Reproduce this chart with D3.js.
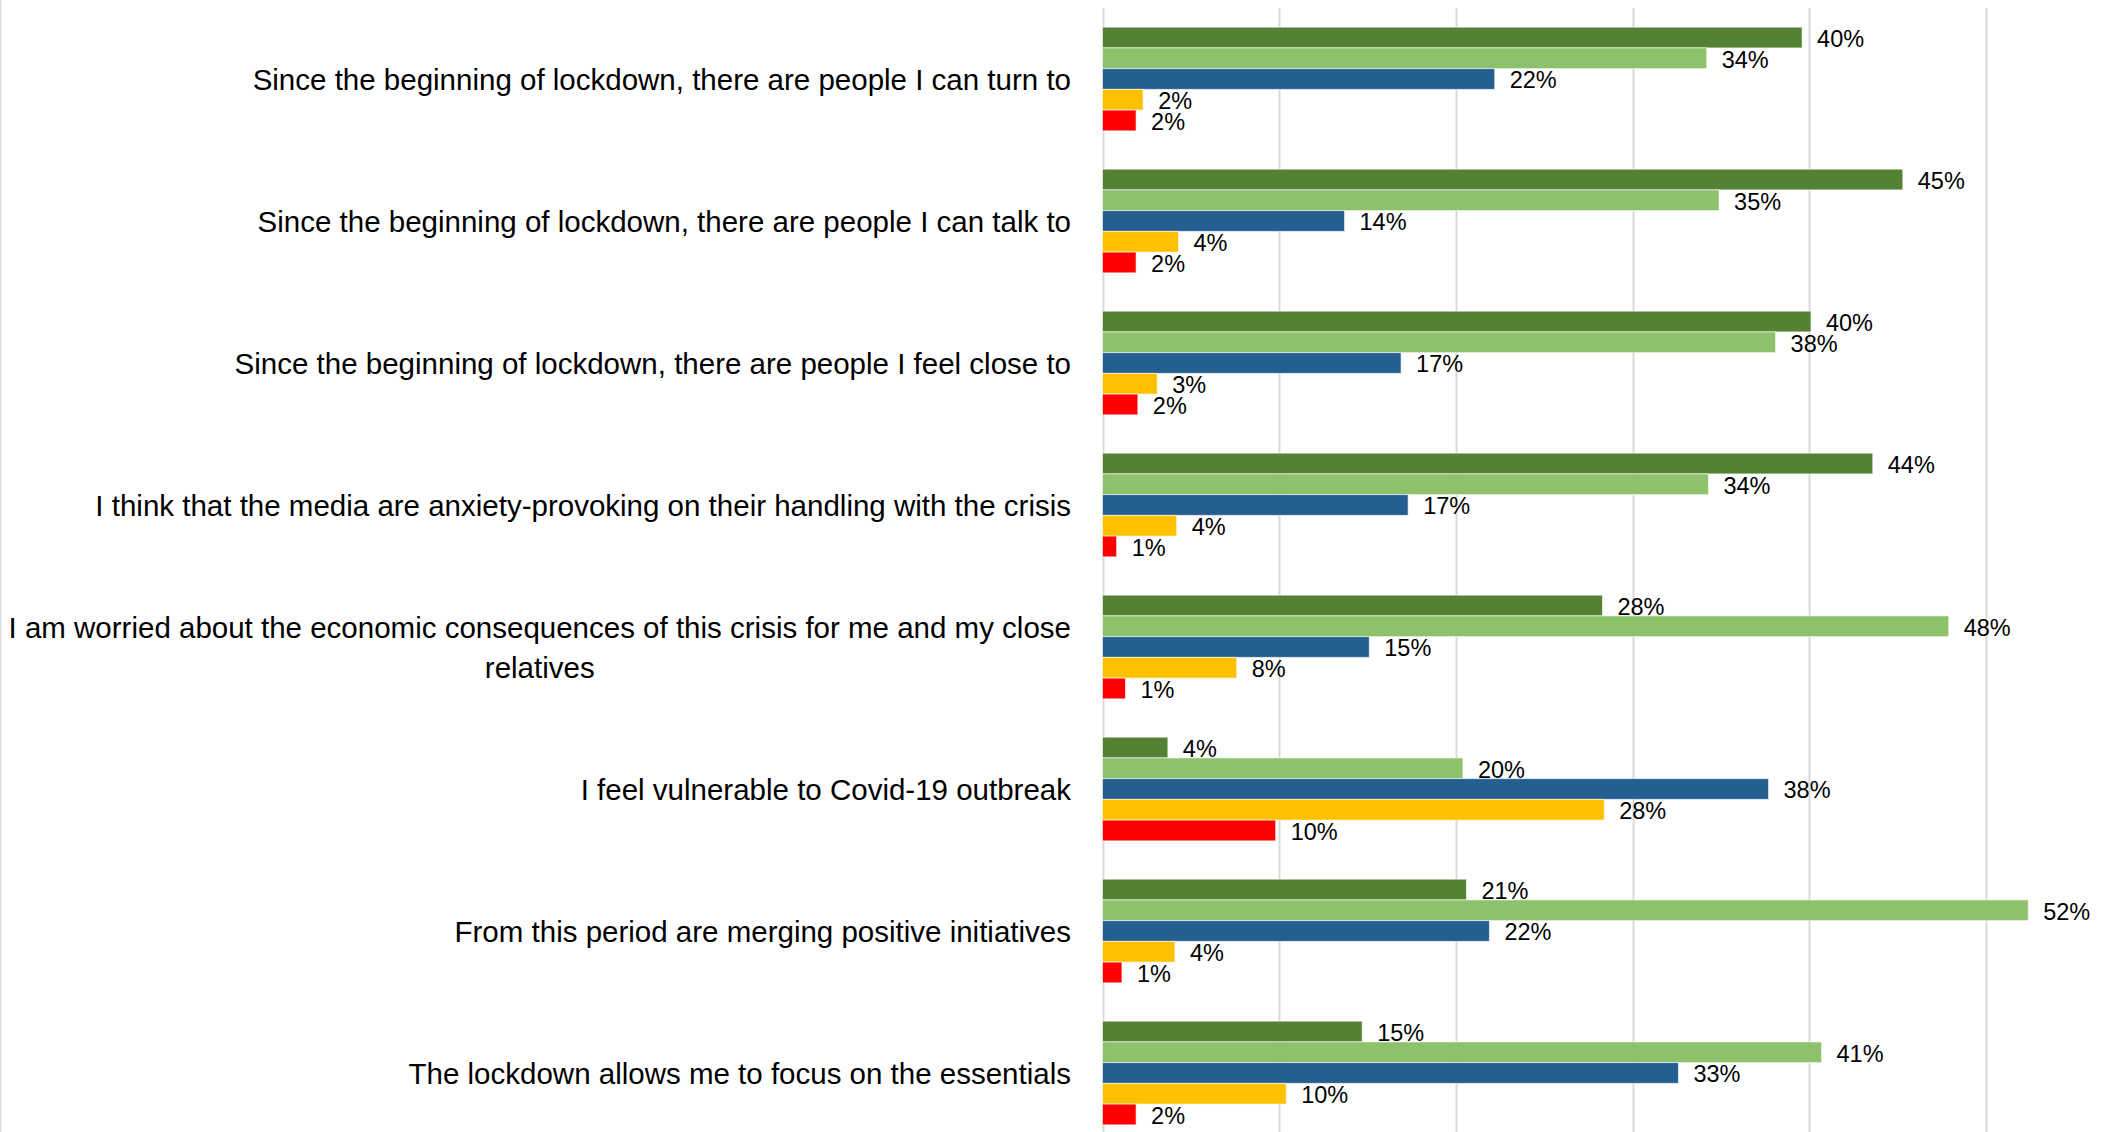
<!DOCTYPE html>
<html>
<head>
<meta charset="utf-8">
<script src="https://cdn.jsdelivr.net/npm/d3@7"></script>
<style>
  body { margin: 0; background: #fff; }
  svg { display: block; }
</style>
</head>
<body>
<svg width="2108" height="1132"></svg>
<script>
// statements, one per group (\n where the original label wraps)
var categories = [
  "Since the beginning of lockdown, there are people I can turn to",
  "Since the beginning of lockdown, there are people I can talk to",
  "Since the beginning of lockdown, there are people I feel close to",
  "I think that the media are anxiety-provoking on their handling with the crisis",
  "I am worried about the economic consequences of this crisis for me and my close\nrelatives",
  "I feel vulnerable to Covid-19 outbreak",
  "From this period are merging positive initiatives",
  "The lockdown allows me to focus on the essentials"
];

// answer levels, top bar to bottom bar inside each group
var seriesNames = ["s1", "s2", "s3", "s4", "s5"];
var seriesColors = ["#548235", "#8dc26b", "#255e91", "#ffc000", "#ff0000"];

// percent values
var s1 = [39.6, 45.3, 40.1, 43.6, 28.3, 3.7, 20.6, 14.7];
var s2 = [34.2, 34.9, 38.1, 34.3, 47.9, 20.4, 52.4, 40.7];
var s3 = [22.2, 13.7, 16.9, 17.3, 15.1, 37.7, 21.9, 32.6];
var s4 = [2.3, 4.3, 3.1, 4.2, 7.6, 28.4, 4.1, 10.4];
var s5 = [1.9, 1.9, 2.0, 0.8, 1.3, 9.8, 1.1, 1.9];

var gridTicks = [0, 10, 20, 30, 40, 50, 60];

var series = [s1, s2, s3, s4, s5];

var svg = d3.select("svg");
var font = "'Liberation Sans', Arial, sans-serif";

var x = d3.scaleLinear()
  .domain([0, 60])
  .range([1102.5, 2162.5]);

var y = d3.scaleBand()
  .domain(d3.range(categories.length))
  .range([8, 1144])
  .paddingInner(0.27)
  .paddingOuter(0.135);

var yInner = d3.scaleBand()
  .domain(d3.range(seriesNames.length))
  .range([0, y.bandwidth()]);

// chart border on the left
svg.append("line")
  .attr("x1", 0.5).attr("x2", 0.5)
  .attr("y1", 0).attr("y2", 1132)
  .attr("stroke", "#d9d9d9")
  .attr("stroke-width", 1.5);

// vertical gridlines
svg.selectAll("line.grid")
  .data(gridTicks)
  .enter()
  .append("line")
  .attr("class", "grid")
  .attr("x1", function (d) { return Math.round(x(d)) + 0.5; })
  .attr("x2", function (d) { return Math.round(x(d)) + 0.5; })
  .attr("y1", 8)
  .attr("y2", 1132)
  .attr("stroke", "#d9d9d9")
  .attr("stroke-width", 2);

var groups = svg.selectAll("g.cat")
  .data(categories)
  .enter()
  .append("g")
  .attr("class", "cat")
  .attr("transform", function (d, i) { return "translate(0," + y(i) + ")"; });

groups.each(function (cat, i) {
  var g = d3.select(this);
  var rows = series.map(function (s, k) { return {k: k, v: s[i]}; });

  g.selectAll("rect")
    .data(rows)
    .enter()
    .append("rect")
    .attr("x", x(0))
    .attr("y", function (d) { return yInner(d.k); })
    .attr("width", function (d) { return x(d.v) - x(0); })
    .attr("height", yInner.bandwidth())
    .attr("fill", function (d) { return seriesColors[d.k]; })
    .attr("stroke", "#ffffff")
    .attr("stroke-opacity", 0.6)
    .attr("stroke-width", 1);

  g.selectAll("text.val")
    .data(rows)
    .enter()
    .append("text")
    .attr("class", "val")
    .attr("x", function (d) { return x(d.v) + 15; })
    .attr("y", function (d) { return yInner(d.k) + yInner.bandwidth() / 2; })
    .attr("dy", "0.4em")
    .attr("font-family", font)
    .attr("font-size", 23.5)
    .attr("fill", "#000")
    .text(function (d) { return Math.round(d.v) + "%"; });

  // category label
  var lines = cat.split("\n");
  var cy = y.bandwidth() / 2;
  var lineH = 40;
  var label = g.append("text")
    .attr("font-family", font)
    .attr("font-size", 29.5)
    .attr("fill", "#000");
  if (lines.length === 1) {
    label.attr("text-anchor", "end")
      .attr("x", 1071)
      .attr("y", cy)
      .attr("dy", "0.36em")
      .text(cat);
  } else {
    label.attr("text-anchor", "middle");
    var tmp = label.append("tspan").text(lines[0]);
    var w = tmp.node().getComputedTextLength();
    tmp.remove();
    var mid = 1071 - w / 2;
    lines.forEach(function (ln, j) {
      label.append("tspan")
        .attr("x", mid)
        .attr("y", cy + (j - (lines.length - 1) / 2) * lineH)
        .attr("dy", "0.36em")
        .text(ln);
    });
  }
});
</script>
</body>
</html>
